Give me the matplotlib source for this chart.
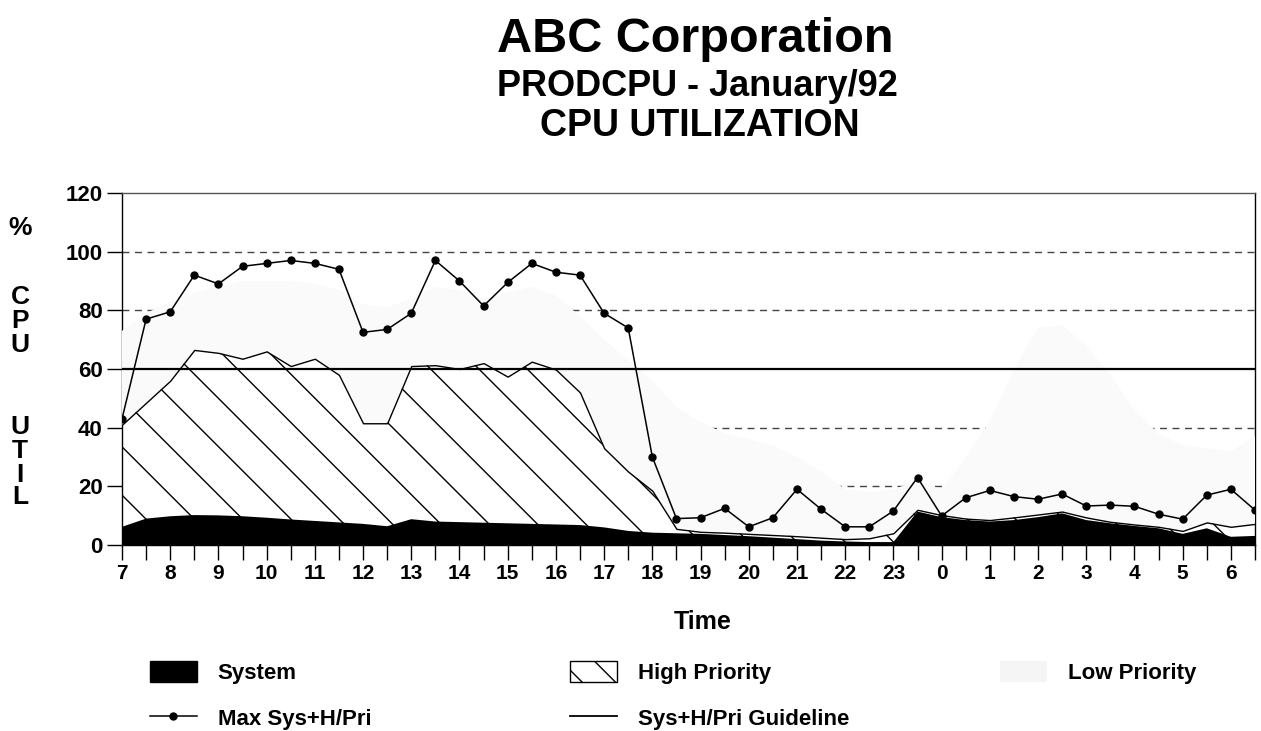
import numpy as np
import matplotlib
matplotlib.use('Agg')
import matplotlib.pyplot as plt
from matplotlib.patches import Patch
from matplotlib.lines import Line2D

plt.rcParams['font.family'] = ['Liberation Sans Narrow', 'Liberation Sans', 'DejaVu Sans']
plt.rcParams['font.weight'] = 'bold'

# half-hour samples from 07:00 to 06:30 next morning
hour_labels = ['7', '8', '9', '10', '11', '12', '13', '14', '15', '16', '17', '18',
               '19', '20', '21', '22', '23', '0', '1', '2', '3', '4', '5', '6']
half_hours = np.arange(48) * 0.5

system_pct = [6.2, 9.0, 9.8, 10.2, 10.1, 9.8, 9.3, 8.7, 8.2, 7.7, 7.2, 6.4,
              8.8, 8.0, 7.8, 7.6, 7.4, 7.2, 7.0, 6.8, 6.0, 4.8, 4.2, 4.0,
              3.8, 3.4, 3.0, 2.5, 2.0, 1.5, 1.2, 1.0, 1.0, 11.4, 9.5, 8.5,
              8.0, 8.5, 9.5, 10.8, 8.5, 7.4, 6.5, 5.7, 3.8, 5.7, 2.8, 3.1]
# top of the high priority band (system + high priority)
sys_hpri_pct = [41, 48.5, 56, 66.5, 65.5, 63.5, 66, 61, 63.5, 58, 41.5, 41.5,
                61, 61.3, 60, 62, 57.4, 62.5, 59.8, 52, 33, 25, 18.5, 5.5,
                4.5, 4.2, 3.8, 3.4, 3.0, 2.5, 2.0, 2.3, 4.0, 12, 10.2, 9.0,
                8.5, 9.4, 10.4, 11.4, 9.4, 7.9, 7.0, 6.2, 4.8, 7.7, 6.2, 7.2]
# top of the low priority band (total)
total_pct = [73, 79, 83, 86, 88, 90, 90, 90, 89, 87, 82, 81,
             84, 88, 87, 84, 86, 88, 85, 78, 70, 63, 56, 47,
             42, 38, 36, 34, 30, 25, 19, 18, 19, 22, 19, 30,
             42, 60, 74, 75, 68, 58, 46, 38, 34, 33, 32, 37]
max_sys_hpri = [43, 77, 79.5, 92, 89, 95, 96, 97, 96, 94, 72.5, 73.5,
                79, 97, 90, 81.5, 89.5, 96, 93, 92, 79, 74, 30, 9,
                9.3, 12.5, 6.2, 9.3, 19, 12.2, 6.2, 6.2, 11.6, 23, 9.9, 16.1,
                18.6, 16.5, 15.6, 17.4, 13.3, 13.6, 13.2, 10.5, 8.8, 17, 19, 11.9]
guideline_pct = 60
grid_levels = [20, 40, 80, 100]
y_ticks = [0, 20, 40, 60, 80, 100, 120]

LOW_COLOR = '#fafafa'

W, H = 1261, 731
fig = plt.figure(figsize=(W / 100, H / 100), dpi=100)
ax = fig.add_axes([122 / W, 1 - 545 / H, (1255 - 122) / W, (545 - 193) / H])

for lvl in grid_levels:
    ax.axhline(lvl, color='#444444', lw=1, ls=(0, (5, 4)), zorder=2.2)

ax.fill_between(half_hours, 0, total_pct, facecolor=LOW_COLOR, lw=0, zorder=2.6)
hp = ax.fill_between(half_hours, 0, sys_hpri_pct, facecolor='white',
                     edgecolor='black', lw=1, zorder=2.7)

# sparse 45 degree hatch, clipped to the high priority band
ax_w = 1255 - 122
ax_h = 545 - 193
step = 48.3
hp_path = hp.get_paths()[0]
for c in np.arange(36 - step * 8, ax_w + step, step):
    ln = Line2D([c / ax_w, (c + ax_h) / ax_w], [1, 0],
                transform=ax.transAxes, color='black', lw=1, zorder=2.8)
    ln.set_clip_path(hp_path, ax.transData)
    ax.add_line(ln)

ax.fill_between(half_hours, 0, system_pct, facecolor='black', lw=0, zorder=2.9)
ax.axhline(guideline_pct, color='black', lw=1.6, zorder=3)
ax.plot(half_hours, max_sys_hpri, color='black', lw=1.1, marker='o', ms=5, zorder=4)

ax.set_xlim(0, 23.5)
ax.set_ylim(0, 120)
ax.set_xticks(np.arange(24))
ax.set_xticklabels(hour_labels)
ax.set_xticks(np.arange(0.5, 24, 1), minor=True)
ax.set_yticks(y_ticks)
ax.tick_params(axis='x', which='both', direction='out', length=11, width=1,
               labelsize=15, pad=3)
ax.tick_params(axis='y', direction='out', length=11, width=1, labelsize=16, pad=3)
for lab in ax.get_xticklabels() + ax.get_yticklabels():
    lab.set_fontweight('bold')
for s in ax.spines.values():
    s.set_linewidth(1)
ax.spines['top'].set_color('#555555')

ax.set_xlabel('Time', fontsize=18, fontweight='bold', labelpad=19)
ax.xaxis.label.set_x((703 - 122) / ax_w)

# stacked y label
for letter, ypx in [('%', 228), ('C', 297), ('P', 321), ('U', 345),
                    ('U', 427), ('T', 451), ('I', 475), ('L', 497)]:
    fig.text(20 / W, 1 - ypx / H, letter, ha='center', va='center',
             fontsize=19, fontweight='bold')

fig.text(695 / W, 1 - 40 / H, 'ABC Corporation', ha='center', va='center',
         fontsize=35, fontweight='bold')
fig.text(697 / W, 1 - 87 / H, 'PRODCPU - January/92', ha='center', va='center',
         fontsize=26, fontweight='bold')
fig.text(700 / W, 1 - 126 / H, 'CPU UTILIZATION', ha='center', va='center',
         fontsize=27, fontweight='bold')

leg_kw = dict(loc='upper left', frameon=False, fontsize=16, handlelength=2.1,
              handleheight=1.05, handletextpad=0.95, labelspacing=1.05,
              borderpad=0, borderaxespad=0)
top_y = 1 - 661 / H
fig.legend(handles=[Patch(facecolor='black', edgecolor='black'),
                    Line2D([], [], color='black', lw=1.1, marker='o', ms=5)],
           labels=['System', 'Max Sys+H/Pri'],
           bbox_to_anchor=(150 / W, top_y), **leg_kw)
fig.legend(handles=[Patch(facecolor='white', edgecolor='black', hatch='\\'),
                    Line2D([], [], color='black', lw=1.3)],
           labels=['High Priority', 'Sys+H/Pri Guideline'],
           bbox_to_anchor=(570 / W, top_y), **leg_kw)
fig.legend(handles=[Patch(facecolor='#f5f5f5', edgecolor='none')],
           labels=['Low Priority'],
           bbox_to_anchor=(1000 / W, top_y), **leg_kw)

fig.savefig('out.png', dpi=100)
